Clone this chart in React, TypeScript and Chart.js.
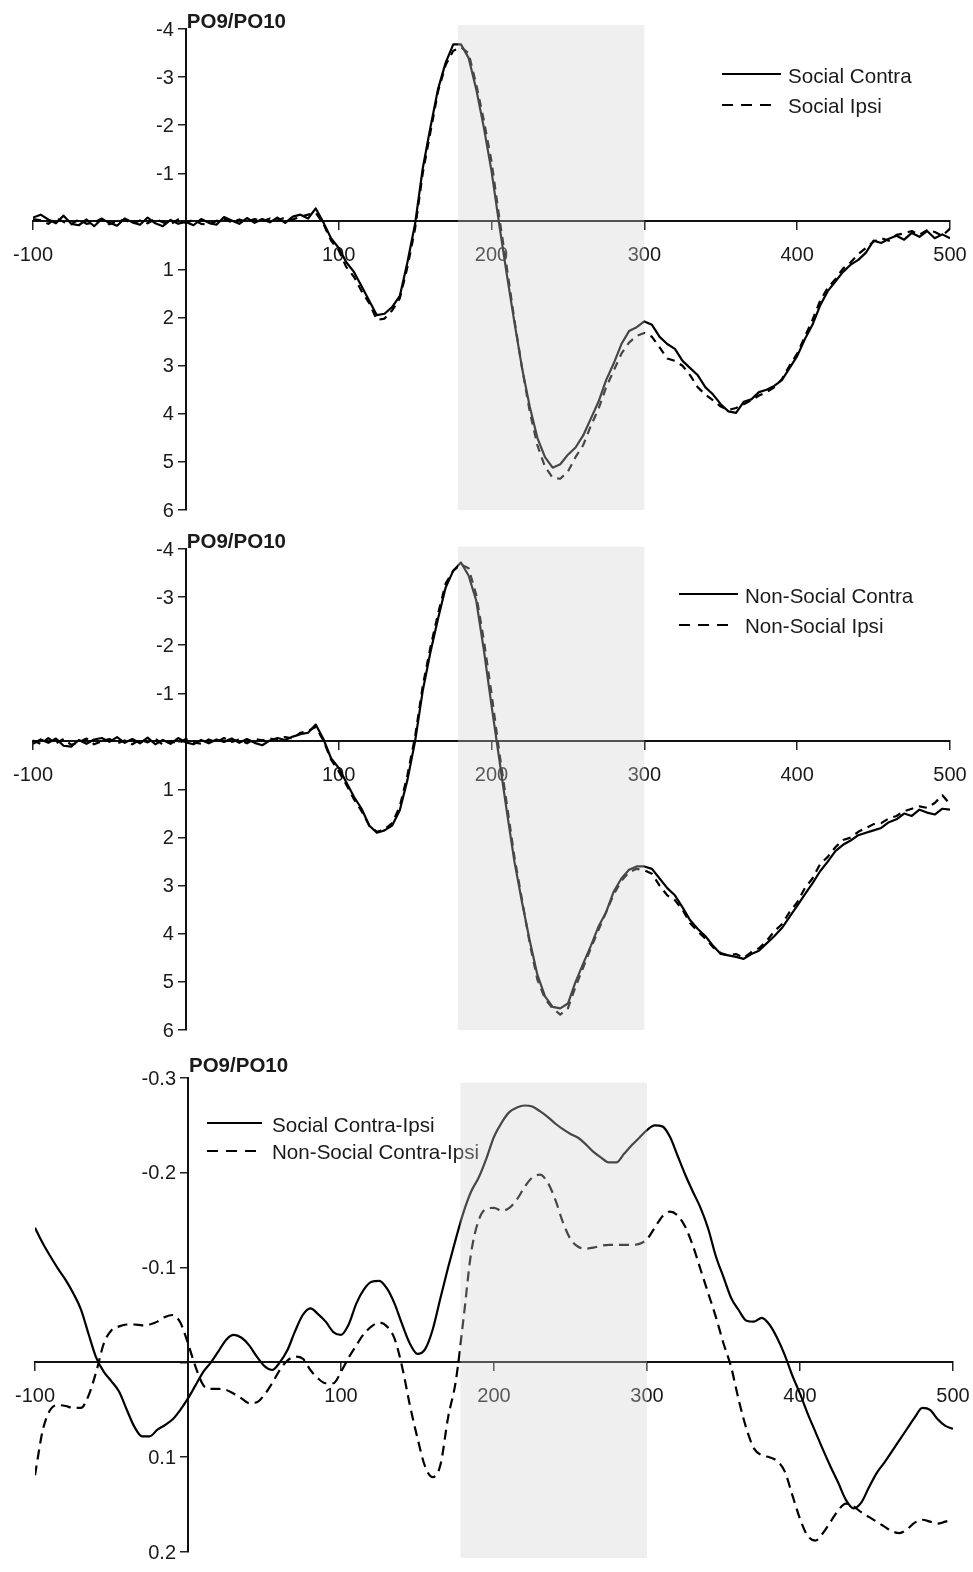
import { useEffect, useRef } from "react";
import { Chart, registerables } from "chart.js";

Chart.register(...registerables);

const FONT = '"Liberation Sans", Arial, Helvetica, sans-serif';
const TEXT = "#1a1a1a";

// time axis (ms), 5 ms steps
const TIMES = [
  -100, -95, -90, -85, -80, -75, -70, -65, -60, -55,
  -50, -45, -40, -35, -30, -25, -20, -15, -10, -5,
  0, 5, 10, 15, 20, 25, 30, 35, 40, 45,
  50, 55, 60, 65, 70, 75, 80, 85, 90, 95,
  100, 105, 110, 115, 120, 125, 130, 135, 140, 145,
  150, 155, 160, 165, 170, 175, 180, 185, 190, 195,
  200, 205, 210, 215, 220, 225, 230, 235, 240, 245,
  250, 255, 260, 265, 270, 275, 280, 285, 290, 295,
  300, 305, 310, 315, 320, 325, 330, 335, 340, 345,
  350, 355, 360, 365, 370, 375, 380, 385, 390, 395,
  400, 405, 410, 415, 420, 425, 430, 435, 440, 445,
  450, 455, 460, 465, 470, 475, 480, 485, 490, 495,
  500,
];

const X_TICKS = [-100, 0, 100, 200, 300, 400, 500];
const SHADE_RANGE = [178, 300];

const socialContra = [
  -0.08, -0.14, -0.04, 0.04, -0.12, 0.05, 0.08, -0.04, 0.10, -0.05,
  0.03, 0.09, -0.06, 0.02, 0.07, -0.08, 0.04, 0.10, -0.03, 0.05,
  0.01, 0.08, -0.05, 0.03, 0.07, -0.09, -0.02, 0.05, -0.07, 0.03,
  -0.05, 0.02, -0.08, 0.03, -0.10, -0.14, -0.06, -0.27, 0.02, 0.35,
  0.55, 0.85, 1.05, 1.35, 1.65, 1.95, 1.92, 1.78, 1.55, 0.85,
  0.05, -1.10, -1.95, -2.75, -3.30, -3.68, -3.68, -3.40, -2.75, -1.95,
  -1.05, 0.05, 1.10, 2.10, 3.05, 3.85, 4.50, 4.90, 5.12, 5.05,
  4.85, 4.70, 4.45, 4.10, 3.75, 3.30, 2.95, 2.55, 2.28, 2.20,
  2.08, 2.15, 2.40, 2.55, 2.65, 2.90, 3.05, 3.20, 3.45, 3.60,
  3.80, 3.95, 3.98, 3.75, 3.70, 3.55, 3.50, 3.42, 3.30, 3.05,
  2.80, 2.45, 2.15, 1.75, 1.45, 1.25, 1.05, 0.90, 0.80, 0.65,
  0.40, 0.45, 0.36, 0.30, 0.38, 0.24, 0.32, 0.20, 0.35, 0.27,
  0.35,
];

const socialIpsi = [
  -0.05, -0.02, 0.05, -0.07, 0.01, 0.06, -0.04, 0.05, 0.02, -0.06,
  0.06, 0.00, -0.04, 0.05, -0.02, 0.04, -0.05, 0.02, 0.06, -0.04,
  0.03, -0.03, 0.05, 0.07, -0.01, -0.05, 0.02, -0.04, 0.01, -0.05,
  0.00, -0.06, -0.02, -0.08, -0.04, -0.10, -0.14, -0.18, 0.05, 0.40,
  0.60, 0.95, 1.15, 1.45, 1.70, 2.05, 2.02, 1.85, 1.60, 0.95,
  0.15, -1.00, -1.85, -2.70, -3.25, -3.55, -3.62, -3.50, -2.85, -2.10,
  -1.25, -0.10, 0.95, 2.05, 3.05, 3.95, 4.65, 5.10, 5.33, 5.35,
  5.20, 4.90, 4.65, 4.25, 3.90, 3.45, 3.10, 2.75, 2.52, 2.38,
  2.32, 2.40, 2.62, 2.85, 2.90, 3.00, 3.20, 3.45, 3.60, 3.72,
  3.85, 3.92, 3.88, 3.80, 3.72, 3.62, 3.55, 3.45, 3.28, 3.00,
  2.75, 2.40, 2.05, 1.65, 1.38, 1.20, 0.98, 0.85, 0.68, 0.55,
  0.42, 0.35, 0.40, 0.28, 0.25, 0.20, 0.28, 0.18, 0.22, 0.30,
  0.15,
];

const nonSocialContra = [
  0.05, -0.04, 0.03, -0.06, 0.09, 0.11, -0.03, 0.05, -0.04, -0.07,
  0.01, -0.09, 0.03, -0.05, 0.04, -0.08, 0.06, -0.03, 0.05, -0.07,
  0.02, 0.06, -0.03, 0.04, -0.04, 0.01, -0.06, 0.03, -0.05, 0.03,
  0.08, -0.02, -0.07, -0.03, -0.10, -0.15, -0.18, -0.35, -0.05, 0.35,
  0.55, 0.85, 1.15, 1.40, 1.75, 1.90, 1.85, 1.75, 1.43, 0.80,
  0.00, -1.05, -1.85, -2.55, -3.20, -3.55, -3.72, -3.45, -2.93, -1.90,
  -0.75, 0.35, 1.45, 2.50, 3.35, 4.14, 4.85, 5.30, 5.52, 5.55,
  5.45, 5.00, 4.62, 4.25, 3.85, 3.55, 3.12, 2.85, 2.67, 2.60,
  2.60, 2.65, 2.85, 3.05, 3.20, 3.45, 3.72, 3.90, 4.05, 4.25,
  4.42, 4.45, 4.48, 4.52, 4.42, 4.35, 4.20, 4.05, 3.88, 3.65,
  3.42, 3.18, 2.95, 2.70, 2.50, 2.28, 2.15, 2.06, 1.95, 1.90,
  1.85, 1.80, 1.68, 1.62, 1.50, 1.55, 1.42, 1.48, 1.52, 1.40,
  1.42,
];

const nonSocialIpsi = [
  -0.02, 0.05, -0.07, 0.04, -0.05, 0.07, 0.02, -0.06, 0.06, 0.00,
  -0.05, 0.04, -0.02, 0.06, -0.04, 0.02, -0.06, 0.07, 0.00, 0.04,
  -0.05, 0.02, 0.05, -0.04, 0.02, -0.07, 0.01, -0.04, 0.04, -0.05,
  -0.02, -0.06, -0.03, -0.09, -0.06, -0.18, -0.22, -0.30, -0.02, 0.38,
  0.62, 0.90, 1.20, 1.45, 1.75, 1.88, 1.83, 1.70, 1.35, 0.70,
  -0.10, -1.15, -1.95, -2.65, -3.28, -3.55, -3.68, -3.60, -3.05, -2.10,
  -1.00, 0.20, 1.30, 2.40, 3.30, 4.20, 4.95, 5.35, 5.55, 5.68,
  5.55, 5.10, 4.70, 4.30, 3.92, 3.55, 3.18, 2.90, 2.72, 2.65,
  2.68, 2.75, 3.00, 3.20, 3.30, 3.50, 3.78, 3.95, 4.10, 4.28,
  4.40, 4.45, 4.42, 4.50, 4.38, 4.30, 4.15, 3.95, 3.80, 3.55,
  3.35, 3.05, 2.85, 2.55, 2.40, 2.20, 2.05, 2.00, 1.88, 1.80,
  1.72, 1.70, 1.60, 1.55, 1.45, 1.40, 1.35, 1.38, 1.28, 1.12,
  1.30,
];

const socialDiff = [
  -0.142, -0.126, -0.112, -0.099, -0.087, -0.073, -0.056, -0.030, -0.005, 0.010,
  0.020, 0.031, 0.050, 0.068, 0.078, 0.078, 0.071, 0.066, 0.060, 0.050,
  0.038, 0.024, 0.010, 0.000, -0.012, -0.024, -0.029, -0.026, -0.018, -0.006,
  0.004, 0.008, 0.000, -0.013, -0.033, -0.050, -0.057, -0.051, -0.043, -0.032,
  -0.029, -0.040, -0.062, -0.077, -0.085, -0.086, -0.078, -0.062, -0.040, -0.020,
  -0.009, -0.014, -0.035, -0.068, -0.100, -0.130, -0.158, -0.180, -0.195, -0.215,
  -0.238, -0.253, -0.264, -0.269, -0.271, -0.270, -0.265, -0.259, -0.252, -0.246,
  -0.241, -0.237, -0.230, -0.222, -0.216, -0.211, -0.211, -0.220, -0.229, -0.237,
  -0.245, -0.250, -0.249, -0.238, -0.218, -0.198, -0.180, -0.163, -0.141, -0.112,
  -0.090, -0.068, -0.055, -0.044, -0.043, -0.047, -0.040, -0.026, -0.008, 0.014,
  0.033, 0.054, 0.073, 0.092, 0.110, 0.127, 0.145, 0.154, 0.148, 0.132,
  0.117, 0.106, 0.094, 0.082, 0.070, 0.058, 0.048, 0.050, 0.060, 0.067,
  0.070,
];

const nonSocialDiff = [
  0.119, 0.072, 0.050, 0.045, 0.046, 0.048, 0.048, 0.035, 0.010, -0.020,
  -0.034, -0.038, -0.040, -0.040, -0.039, -0.040, -0.043, -0.048, -0.050, -0.042,
  -0.020, 0.005, 0.024, 0.028, 0.028, 0.029, 0.033, 0.038, 0.043, 0.042,
  0.034, 0.022, 0.008, -0.002, -0.006, -0.004, 0.008, 0.017, 0.022, 0.022,
  0.010, -0.005, -0.018, -0.030, -0.038, -0.042, -0.038, -0.025, 0.005, 0.045,
  0.080, 0.110, 0.121, 0.108, 0.058, 0.020, -0.045, -0.115, -0.150, -0.162,
  -0.163, -0.160, -0.163, -0.172, -0.185, -0.195, -0.198, -0.190, -0.172, -0.148,
  -0.130, -0.122, -0.120, -0.121, -0.123, -0.124, -0.124, -0.124, -0.124, -0.125,
  -0.130, -0.142, -0.154, -0.159, -0.155, -0.143, -0.123, -0.098, -0.073, -0.048,
  -0.020, 0.005, 0.040, 0.070, 0.091, 0.098, 0.100, 0.104, 0.115, 0.140,
  0.165, 0.183, 0.188, 0.180, 0.168, 0.156, 0.149, 0.152, 0.158, 0.163,
  0.168, 0.173, 0.178, 0.180, 0.176, 0.169, 0.166, 0.168, 0.170, 0.168,
  0.166,
];

type Series = { label: string; values: number[]; dashed: boolean };
type PanelCfg = {
  top: number;
  height: number;
  pad: { left: number; right: number; top: number; bottom: number };
  yMin: number;
  yMax: number;
  yStep: number;
  yDecimals: number;
  series: Series[];
  smooth: boolean;
  lineDash: number[];
  legend: {
    lineX: number;
    solidLen: number;
    dashLen: number;
    textX: number;
    lineY: number[];
    textY: number[];
  };
  titleBaseline: number;
  shadeTop: number;
  shadeExtra: number;
};

const PANELS: PanelCfg[] = [
  {
    top: 0,
    height: 520,
    pad: { left: 33, right: 23, top: 29, bottom: 10 },
    yMin: -4,
    yMax: 6,
    yStep: 1,
    yDecimals: 0,
    series: [
      { label: "Social Contra", values: socialContra, dashed: false },
      { label: "Social Ipsi", values: socialIpsi, dashed: true },
    ],
    smooth: false,
    lineDash: [8, 6],
    legend: { lineX: 722, solidLen: 59, dashLen: 50, textX: 788, lineY: [74, 105], textY: [83, 113] },
    titleBaseline: 28,
    shadeTop: -4.08,
    shadeExtra: 0,
  },
  {
    top: 520,
    height: 520,
    pad: { left: 33, right: 23, top: 29, bottom: 10 },
    yMin: -4,
    yMax: 6,
    yStep: 1,
    yDecimals: 0,
    series: [
      { label: "Non-Social Contra", values: nonSocialContra, dashed: false },
      { label: "Non-Social Ipsi", values: nonSocialIpsi, dashed: true },
    ],
    smooth: false,
    lineDash: [8, 6],
    legend: { lineX: 679, solidLen: 59, dashLen: 50, textX: 745, lineY: [74, 105], textY: [83, 113] },
    titleBaseline: 28,
    shadeTop: -4.05,
    shadeExtra: 0,
  },
  {
    top: 1040,
    height: 532,
    pad: { left: 35, right: 20, top: 38, bottom: 20 },
    yMin: -0.3,
    yMax: 0.2,
    yStep: 0.1,
    yDecimals: 1,
    series: [
      { label: "Social Contra-Ipsi", values: socialDiff, dashed: false },
      { label: "Non-Social Contra-Ipsi", values: nonSocialDiff, dashed: true },
    ],
    smooth: true,
    lineDash: [10, 6],
    legend: { lineX: 207, solidLen: 55, dashLen: 50, textX: 272, lineY: [83, 111], textY: [91.5, 119] },
    titleBaseline: 32,
    shadeTop: -0.295,
    shadeExtra: 6,
  },
];

function makeOverlay(cfg: PanelCfg) {
  return {
    id: "overlay",
    afterDatasetsDraw(chart: any) {
      const ctx = chart.ctx as CanvasRenderingContext2D;
      const xs = chart.scales.x;
      const ys = chart.scales.y;
      const axisX = xs.getPixelForValue(0);
      ctx.save();
      // y tick labels
      ctx.font = `20px ${FONT}`;
      ctx.fillStyle = TEXT;
      ctx.textAlign = "right";
      ctx.textBaseline = "middle";
      ys.ticks.forEach((t: any) => {
        if (Math.abs(t.value) < 1e-9) return;
        ctx.fillText(t.value.toFixed(cfg.yDecimals), axisX - 12, ys.getPixelForValue(t.value) + 1);
      });
      // title
      ctx.font = `bold 20.5px ${FONT}`;
      ctx.textAlign = "left";
      ctx.textBaseline = "alphabetic";
      ctx.fillText("PO9/PO10", axisX + 1, cfg.titleBaseline);
      // legend
      const lg = cfg.legend;
      cfg.series.forEach((s, i) => {
        ctx.beginPath();
        ctx.strokeStyle = "#000";
        ctx.lineWidth = 2;
        ctx.setLineDash(s.dashed ? [11, 8] : []);
        ctx.moveTo(lg.lineX, lg.lineY[i]);
        ctx.lineTo(lg.lineX + (s.dashed ? lg.dashLen : lg.solidLen), lg.lineY[i]);
        ctx.stroke();
        ctx.setLineDash([]);
        ctx.font = `20.6px ${FONT}`;
        ctx.fillStyle = TEXT;
        ctx.textAlign = "left";
        ctx.textBaseline = "alphabetic";
        ctx.fillText(s.label, lg.textX, lg.textY[i]);
      });
      ctx.restore();
    },
    afterDraw(chart: any) {
      const ctx = chart.ctx as CanvasRenderingContext2D;
      const xs = chart.scales.x;
      const ys = chart.scales.y;
      const x1 = xs.getPixelForValue(SHADE_RANGE[0]);
      const x2 = xs.getPixelForValue(SHADE_RANGE[1]);
      const y1 = ys.getPixelForValue(cfg.shadeTop);
      const y2 = chart.chartArea.bottom + cfg.shadeExtra;
      ctx.save();
      ctx.fillStyle = "rgba(207,207,207,0.34)";
      ctx.fillRect(x1, y1, x2 - x1, y2 - y1);
      ctx.restore();
    },
  };
}

// labels of axes placed inside the plot must not push the plot edges inwards
const noEdgePadding = (scale: any) => {
  scale.paddingLeft = 0;
  scale.paddingRight = 0;
  scale.paddingTop = 0;
  scale.paddingBottom = 0;
};

function Panel({ cfg }: { cfg: PanelCfg }) {
  const ref = useRef<HTMLCanvasElement>(null);
  useEffect(() => {
    const canvas = ref.current;
    if (!canvas) return;
    const chart = new Chart(canvas, {
      type: "line",
      data: {
        datasets: cfg.series.map((s) => ({
          label: s.label,
          data: TIMES.map((t, i) => ({ x: t, y: s.values[i] })),
          borderColor: "#000",
          borderWidth: 2.2,
          pointRadius: 0,
          fill: false,
          borderDash: s.dashed ? cfg.lineDash : [],
          borderJoinStyle: "round",
          tension: 0,
          cubicInterpolationMode: cfg.smooth ? "monotone" : "default",
        })),
      },
      options: {
        responsive: false,
        animation: false,
        events: [],
        layout: { padding: cfg.pad, autoPadding: false },
        plugins: {
          legend: { display: false },
          tooltip: { enabled: false },
        },
        scales: {
          x: {
            type: "linear",
            min: X_TICKS[0],
            max: X_TICKS[X_TICKS.length - 1],
            position: { y: 0 } as any,
            afterBuildTicks: (scale: any) => {
              scale.ticks = X_TICKS.map((v) => ({ value: v }));
            },
            afterFit: noEdgePadding,
            ticks: {
              font: { family: FONT, size: 20 },
              color: TEXT,
              padding: 14,
              maxRotation: 0,
              autoSkip: false,
              callback: (v: any) => (Number(v) === 0 ? "" : String(v)),
            },
            grid: {
              drawOnChartArea: false,
              drawTicks: true,
              tickLength: 8,
              color: "#222",
              lineWidth: 1.5,
            },
            border: { color: "#111", width: 2 },
          },
          y: {
            type: "linear",
            min: cfg.yMin,
            max: cfg.yMax,
            reverse: true,
            position: { x: 0 } as any,
            afterFit: noEdgePadding,
            ticks: { display: false, stepSize: cfg.yStep },
            grid: {
              drawOnChartArea: false,
              drawTicks: true,
              tickLength: 7,
              color: "#222",
              lineWidth: 1.5,
            },
            border: { color: "#111", width: 2 },
          },
        },
      } as any,
      plugins: [makeOverlay(cfg)],
    });
    return () => chart.destroy();
  }, [cfg]);
  return (
    <canvas
      ref={ref}
      width={973}
      height={cfg.height}
      style={{ position: "absolute", left: 0, top: cfg.top, display: "block" }}
    />
  );
}

export default function App() {
  useEffect(() => {
    document.body.style.margin = "0";
  }, []);
  return (
    <div style={{ position: "relative", width: 973, height: 1572, background: "#fff", overflow: "hidden" }}>
      {PANELS.map((p, i) => (
        <Panel key={i} cfg={p} />
      ))}
    </div>
  );
}
